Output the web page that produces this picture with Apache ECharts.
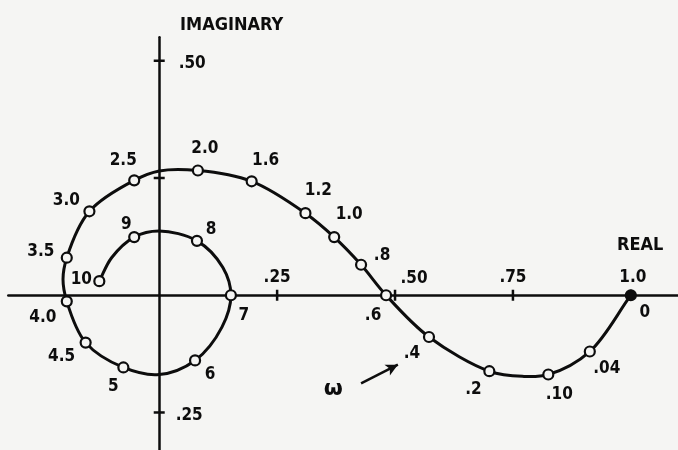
<!DOCTYPE html>
<html>
<head>
<meta charset="utf-8">
<script src="https://cdn.jsdelivr.net/npm/echarts@6/dist/echarts.min.js"></script>
<style>
html,body{margin:0;padding:0;background:#f5f5f3;}
#c{width:678px;height:450px;}
</style>
</head>
<body>
<div id="c"></div>
<script>
// frequency labels (omega) of the marked points
var omegaLabels = ['0','.04','.10','.2','.4','.6','.8','1.0','1.2','1.6','2.0','2.5','3.0','3.5','4.0','4.5','5','6','7','8','9','10'];
// real / imaginary parts of marked points
var realPart = [1.0, 0.913, 0.825, 0.700, 0.572, 0.481, 0.428, 0.371, 0.310, 0.196, 0.082, -0.053, -0.148, -0.196, -0.196, -0.156, -0.076, 0.076, 0.152, 0.080, -0.053, -0.127];
var imagPart = [0.0, -0.120, -0.169, -0.162, -0.089, 0.0, 0.065, 0.124, 0.175, 0.243, 0.266, 0.245, 0.179, 0.080, -0.013, -0.101, -0.154, -0.139, 0.0, 0.116, 0.124, 0.030];
// points (marked points plus a few unmarked curve points)
var curveReal = [1.0, 0.913, 0.825, 0.770, 0.700, 0.572, 0.481, 0.428, 0.371, 0.310, 0.196, 0.082, 0.0, -0.053, -0.148, -0.196, -0.204, -0.196, -0.156, -0.076, 0.0, 0.076, 0.133, 0.152, 0.135, 0.080, 0.0, -0.053, -0.101, -0.127];
var curveImag = [0.0, -0.120, -0.169, -0.173, -0.162, -0.089, 0.0, 0.065, 0.124, 0.175, 0.243, 0.266, 0.265, 0.245, 0.179, 0.080, 0.034, -0.013, -0.101, -0.154, -0.169, -0.139, -0.068, 0.0, 0.059, 0.116, 0.137, 0.124, 0.080, 0.030];
// axis ticks
var xTickValues = [0.25, 0.50, 0.75, 1.0];
var xTickLabels = ['.25', '.50', '.75', '1.0'];
var yTickValues = [0.50, 0.25, -0.25];
var yTickLabels = ['.50', '', '.25'];
// omega arrow annotation (from, to) and symbol location
var arrowFrom = [0.428, -0.188];
var arrowTo = [0.506, -0.148];
var omegaPos = [0.369, -0.200];

// label offsets (layout only)
var ptLabelOffsets = [[14,17],[17,17],[11,20],[-16,18],[-17,17],[-13,20],[21,-9],[15,-23],[13,-23],[14,-21],[7,-22],[-11,-20],[-23,-11],[-26,-6],[-24,16],[-24,14],[-10,19],[15,14],[13,20],[14,-11],[-8,-13],[-18,-2]];
var xTickLabelOffsets = [[0,-18],[19,-17],[0,-18],[2,-18]];
var yTickLabelOffsets = [[33,3],[0,0],[30,3]];

var FONT = "'Liberation Sans Narrow','DejaVu Sans Condensed','Liberation Sans',sans-serif";
var BG = '#f5f5f3';
var INK = '#0d0d0d';

var chart = echarts.init(document.getElementById('c'), null, {renderer:'canvas'});

var pts = realPart.map(function(x,i){
  return {
    value:[x, imagPart[i]],
    itemStyle: i === 0 ? {color:INK, borderColor:INK} : undefined,
    label:{offset: ptLabelOffsets[i]}
  };
});
var curve = curveReal.map(function(x,i){ return [x, curveImag[i]]; });
var xt = xTickValues.map(function(v,i){ return {value:[v,0], label:{offset:xTickLabelOffsets[i]}}; });
var yt = yTickValues.map(function(v,i){ return {value:[0,v], label:{offset:yTickLabelOffsets[i]}}; });

function lbl(fn){
  return {show:true, position:'inside', color:INK, fontFamily:FONT, fontWeight:'bold', fontSize:17, formatter:fn};
}

function dist(a,b){ var dx=a[0]-b[0], dy=a[1]-b[1]; return Math.sqrt(dx*dx+dy*dy); }

// smooth path through curve points (centripetal Catmull-Rom as cubic Beziers), mapped by the axes
function renderCurve(params, api){
  if (params.dataIndex !== 0) return null;
  var p = curve.map(function(d){ return api.coord(d); });
  var n = p.length;
  var d = 'M' + p[0][0] + ' ' + p[0][1];
  for (var i = 0; i < n - 1; i++){
    var p0 = p[Math.max(i-1,0)], p1 = p[i], p2 = p[i+1], p3 = p[Math.min(i+2,n-1)];
    var d1 = Math.pow(dist(p1,p0),0.5), d2 = Math.pow(dist(p2,p1),0.5), d3 = Math.pow(dist(p3,p2),0.5);
    var c1 = [p1[0], p1[1]], c2 = [p2[0], p2[1]];
    if (d1 > 1e-6){
      for (var k=0;k<2;k++){
        c1[k] = (d1*d1*p2[k] - d2*d2*p0[k] + (2*d1*d1 + 3*d1*d2 + d2*d2)*p1[k]) / (3*d1*(d1+d2));
      }
    } else {
      c1 = [p1[0] + (p2[0]-p1[0])/3, p1[1] + (p2[1]-p1[1])/3];
    }
    if (d3 > 1e-6){
      for (var k2=0;k2<2;k2++){
        c2[k2] = (d3*d3*p1[k2] - d2*d2*p3[k2] + (2*d3*d3 + 3*d3*d2 + d2*d2)*p2[k2]) / (3*d3*(d3+d2));
      }
    } else {
      c2 = [p2[0] - (p2[0]-p1[0])/3, p2[1] - (p2[1]-p1[1])/3];
    }
    d += ' C' + c1[0] + ' ' + c1[1] + ' ' + c2[0] + ' ' + c2[1] + ' ' + p2[0] + ' ' + p2[1];
  }
  return {type:'path', shape:{pathData:d}, style:{stroke:INK, lineWidth:3, fill:null, lineJoin:'round', lineCap:'round'}};
}

chart.setOption({
  backgroundColor: BG,
  animation:false,
  title:[
    {text:'IMAGINARY', left:175, top:11, textStyle:{color:INK, fontFamily:FONT, fontWeight:'bold', fontSize:18}},
    {text:'REAL', left:612, top:231, textStyle:{color:INK, fontFamily:FONT, fontWeight:'bold', fontSize:18}}
  ],
  grid:{left:8.3, top:37.3, width:673.1, height:417.1, containLabel:false},
  xAxis:{type:'value', min:-0.32, max:1.1, splitLine:{show:false}, axisTick:{show:false}, axisLabel:{show:false},
    axisLine:{onZero:true, lineStyle:{color:INK, width:2.5}}},
  yAxis:{type:'value', min:-0.33, max:0.55, splitLine:{show:false}, axisTick:{show:false}, axisLabel:{show:false},
    axisLine:{onZero:true, lineStyle:{color:INK, width:2.5}}},
  series:[
    {type:'scatter', data:xt, symbol:'rect', symbolSize:[2.5,11], itemStyle:{color:INK, opacity:1}, z:3,
      label:lbl(function(p){ return xTickLabels[p.dataIndex]; })},
    {type:'scatter', data:yt, symbol:'rect', symbolSize:[11,2.5], itemStyle:{color:INK, opacity:1}, z:3,
      label:lbl(function(p){ return yTickLabels[p.dataIndex]; })},
    {type:'custom', data:curve, renderItem:renderCurve, z:4, silent:true, clip:false},
    {type:'line', data:[], z:4, silent:true,
      markLine:{silent:true, symbol:['none','arrow'], symbolSize:[9,12], label:{show:false},
        lineStyle:{color:INK, width:2.5, type:'solid', opacity:1},
        data:[[{coord:arrowFrom},{coord:arrowTo}]]}},
    {type:'scatter', data:pts, symbol:'circle', symbolSize:10, z:5,
      itemStyle:{color:BG, borderColor:INK, borderWidth:2.2, opacity:1},
      label:lbl(function(p){ return omegaLabels[p.dataIndex]; })},
    {type:'scatter', data:[omegaPos], symbolSize:0, z:5, itemStyle:{opacity:1},
      label:{show:true, position:'inside', color:INK, fontFamily:"'DejaVu Sans',sans-serif", fontWeight:'bold', fontSize:22,
        formatter:'\u03c9'}}
  ]
});
</script>
</body>
</html>
